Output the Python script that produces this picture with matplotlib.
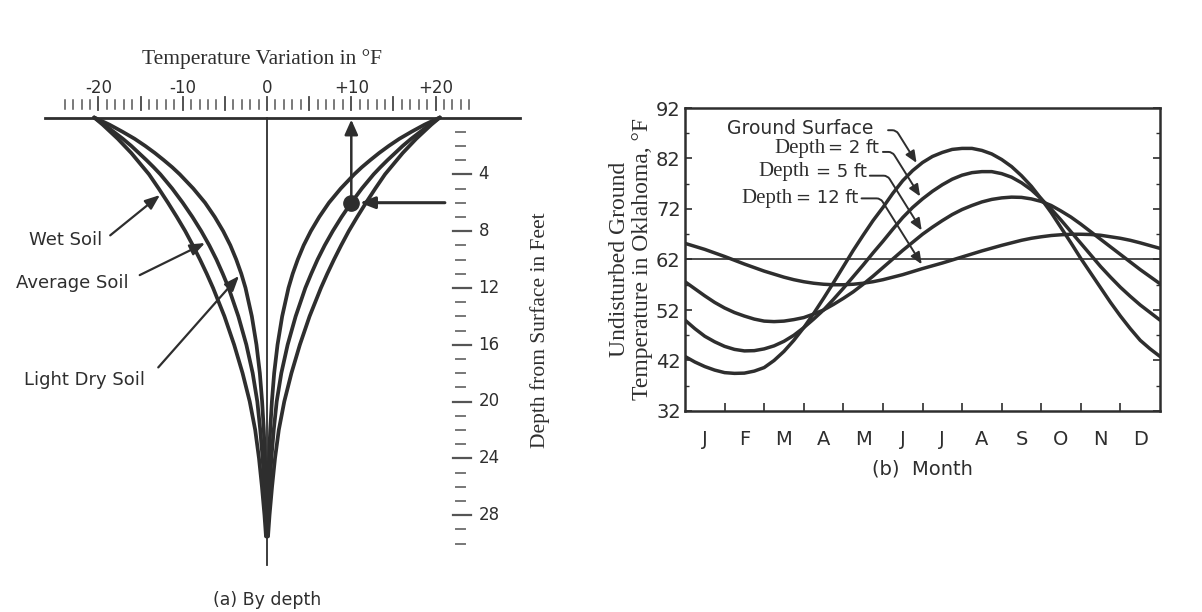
import numpy as np
import matplotlib
matplotlib.use("Agg")
import matplotlib.pyplot as plt

# ---------------- Panel (a): temperature variation by depth ----------------
depth_ft = [0, 0.5, 1, 1.5, 2, 2.5, 3, 3.5, 4, 5, 6, 7, 8, 9, 10, 11, 12,
            14, 16, 18, 20, 22, 24, 26, 28, 29.5]
wet_soil = [20.5, 19.5, 18.6, 17.7, 16.9, 16.1, 15.4, 14.7, 14.0, 12.85, 11.75,
            10.7, 9.7, 8.8, 7.95, 7.15, 6.4, 5.05, 3.9, 2.9, 2.05, 1.4, 0.95,
            0.6, 0.3, 0.12]
average_soil = [20.5, 19.3, 18.2, 17.1, 16.1, 15.2, 14.3, 13.45, 12.65, 11.25,
                10.0, 8.85, 7.8, 6.85, 6.0, 5.25, 4.55, 3.4, 2.45, 1.7, 1.15,
                0.8, 0.52, 0.32, 0.17, 0.06]
light_dry_soil = [20.5, 18.7, 17.15, 15.7, 14.45, 13.3, 12.25, 11.25, 10.35,
                  8.75, 7.35, 6.2, 5.2, 4.35, 3.65, 3.05, 2.55, 1.8, 1.25, 0.85,
                  0.58, 0.38, 0.24, 0.14, 0.07, 0.02]
temp_ticks = [-20, -10, 0, 10, 20]
temp_tick_labels = ["-20", "-10", "0", "+10", "+20"]
depth_ticks = [4, 8, 12, 16, 20, 24, 28]
marker_depth = 6

# ---------------- Panel (b): monthly ground temperature ----------------
month_pos = [i / 4 for i in range(49)]   # quarter-month positions, Jan 1 .. Dec 31
ground_surface = [42.8, 41.7, 40.8, 40.1, 39.6, 39.45, 39.5, 39.9, 40.6, 42.0,
                  43.8, 46.0, 48.5, 51.3, 54.3, 57.4, 60.6, 63.8, 66.8, 69.7,
                  72.3, 75.1, 77.6, 79.6, 81.2, 82.4, 83.2, 83.8, 84.0, 84.0,
                  83.6, 82.9, 81.8, 80.4, 78.6, 76.5, 74.0, 71.3, 68.3, 65.3,
                  62.2, 59.3, 56.4, 53.5, 50.8, 48.3, 46.0, 44.3, 42.8]
depth_2ft = [50.0, 48.3, 46.8, 45.7, 44.8, 44.2, 43.9, 43.95, 44.3, 44.9, 45.8,
             47.0, 48.5, 50.2, 52.0, 54.1, 56.3, 58.6, 60.9, 63.3, 65.6, 68.0,
             70.3, 72.3, 74.0, 75.5, 76.8, 77.9, 78.7, 79.2, 79.4, 79.4, 79.0,
             78.3, 77.2, 75.8, 74.0, 72.0, 69.8, 67.5, 65.2, 62.9, 60.6, 58.5,
             56.5, 54.7, 53.0, 51.5, 50.0]
depth_5ft = [57.6, 56.2, 54.8, 53.5, 52.4, 51.5, 50.8, 50.2, 49.8, 49.7, 49.8,
             50.1, 50.5, 51.2, 52.0, 53.1, 54.3, 55.6, 57.1, 58.7, 60.4, 62.1,
             63.8, 65.4, 67.0, 68.4, 69.7, 70.9, 71.9, 72.7, 73.4, 73.9, 74.2,
             74.35, 74.3, 74.0, 73.5, 72.7, 71.6, 70.4, 69.0, 67.5, 66.0, 64.5,
             63.0, 61.5, 60.0, 58.6, 57.2]
depth_12ft = [65.2, 64.6, 64.0, 63.3, 62.6, 61.85, 61.1, 60.4, 59.7, 59.1, 58.5,
              58.0, 57.6, 57.3, 57.1, 57.0, 57.0, 57.1, 57.3, 57.6, 58.0, 58.5,
              59.0, 59.6, 60.2, 60.75, 61.3, 61.9, 62.5, 63.1, 63.7, 64.25, 64.8,
              65.3, 65.8, 66.2, 66.5, 66.75, 66.9, 67.0, 67.0, 66.95, 66.8, 66.5,
              66.2, 65.8, 65.3, 64.75, 64.2]
mean_temp = 62
month_labels = ["J", "F", "M", "A", "M", "J", "J", "A", "S", "O", "N", "D"]
temp_yticks = [32, 42, 52, 62, 72, 82, 92]

INK = "#2e2e2e"
SANS = ["DejaVu Sans"]
SERIF = ["Liberation Serif", "DejaVu Serif"]

fig = plt.figure(figsize=(12.02, 6.12), dpi=100)
fig.patch.set_facecolor("white")

# ======================= Panel (a) =======================
axa = fig.add_axes([0, 0, 600 / 1202, 1])
axa.set_xlim(-267 / 8.43, (600 - 267) / 8.43)
axa.set_ylim((612 - 117.5) / 14.2, -117.5 / 14.2)
axa.axis("off")

d = np.array(depth_ft)
for curve in (wet_soil, average_soil, light_dry_soil):
    c = np.array(curve)
    axa.plot(c, d, color=INK, lw=2.7, solid_capstyle="round", solid_joinstyle="round")
    axa.plot(-c, d, color=INK, lw=2.7, solid_capstyle="round", solid_joinstyle="round")

# ground surface line and center line
axa.plot([-26.3, 30.0], [0, 0], color=INK, lw=2.0)
axa.plot([0, 0], [0, 31.5], color=INK, lw=1.3)

# ruler on top
for v in range(-24, 25):
    if v % 5 == 0:
        axa.plot([v, v], [-1.45, -0.5], color="#444444", lw=1.3)
    else:
        axa.plot([v, v], [-1.2, -0.6], color="#555555", lw=1.1)
for v, lab in zip(temp_ticks, temp_tick_labels):
    axa.text(v, -2.1, lab, ha="center", va="center", fontsize=12,
             family=SANS, color=INK)
axa.text(-0.6, -4.15, "Temperature Variation in °F", ha="center", va="center",
         fontsize=15.5, family=SERIF, color=INK)

# depth scale
for k in range(1, 31):
    if k % 4 == 0:
        axa.plot([22.1, 24.2], [k, k], color="#555555", lw=1.6)
    else:
        axa.plot([22.4, 23.5], [k, k], color="#777777", lw=1.4)
for k in depth_ticks:
    axa.text(25.1, k, str(k), ha="left", va="center", fontsize=12,
             family=SANS, color=INK)
axa.text(32.4, 15.0, "Depth from Surface in Feet", rotation=90, ha="center",
         va="center", fontsize=15.5, family=SERIF, color=INK)

# soil labels with arrows (tips placed on the curves)
label_specs = [
    ("Wet Soil", wet_soil, -23.9, 8.6, (-18.6, 8.3), 5.46),
    ("Average Soil", average_soil, -23.1, 11.65, (-15.1, 11.1), 8.84),
    ("Light Dry Soil", light_dry_soil, -21.7, 18.5, (-12.9, 17.6), 11.16),
]
for text, curve, tx, ty, start, tip_d in label_specs:
    tip_v = -np.interp(tip_d, depth_ft, curve) - 0.35
    axa.text(tx, ty, text, ha="center", va="center", fontsize=13,
             family=SANS, color=INK)
    axa.annotate("", xy=(tip_v, tip_d), xytext=start,
                 arrowprops=dict(arrowstyle="-|>,head_length=0.9,head_width=0.35",
                                 color=INK, lw=1.6, shrinkA=0, shrinkB=0))

# reading marker on the average-soil curve
mv = average_soil[depth_ft.index(marker_depth)]
axa.plot([mv], [marker_depth], "o", color=INK, markersize=11)
axa.annotate("", xy=(mv, 0.15), xytext=(mv, marker_depth - 0.5),
             arrowprops=dict(arrowstyle="-|>,head_length=0.9,head_width=0.4",
                             color=INK, lw=1.8, shrinkA=0, shrinkB=0))
axa.annotate("", xy=(mv + 1.0, marker_depth), xytext=(21.1, marker_depth),
             arrowprops=dict(arrowstyle="-|>,head_length=0.9,head_width=0.35",
                             color=INK, lw=2.2, shrinkA=0, shrinkB=0))

axa.text(0, 34.0, "(a) By depth", ha="center", va="center", fontsize=12.5,
         family=SANS, color=INK)

# ======================= Panel (b) =======================
axb = fig.add_axes([685 / 1202, 1 - 411 / 612, 475 / 1202, 303 / 612])
t = np.array(month_pos)
for series in (ground_surface, depth_2ft, depth_5ft, depth_12ft):
    axb.plot(t, series, color=INK, lw=2.5, solid_capstyle="round",
             solid_joinstyle="round")
axb.axhline(mean_temp, color=INK, lw=1.2)

axb.set_xlim(0, 12)
axb.set_ylim(32, 92)
for s in axb.spines.values():
    s.set_linewidth(1.8)
    s.set_color(INK)

axb.set_yticks(temp_yticks)
axb.set_yticks([37, 47, 57, 67, 77, 87], minor=True)
axb.tick_params(axis="y", which="both", direction="in", left=True, right=True,
                labelsize=14, pad=3, colors=INK)
axb.tick_params(axis="y", which="major", length=5, width=1.2)
axb.tick_params(axis="y", which="minor", length=3, width=1.0)
for lab in axb.get_yticklabels():
    lab.set_family(SANS)

axb.set_xticks(range(1, 12))
axb.set_xticklabels([])
axb.set_xticks(np.arange(12) + 0.5, minor=True)
axb.set_xticklabels(month_labels, minor=True)
axb.tick_params(axis="x", which="major", direction="in", length=6, width=1.2,
                top=False, colors=INK)
axb.tick_params(axis="x", which="minor", length=0, pad=14, labelsize=14,
                colors=INK)
for lab in axb.get_xticklabels(minor=True):
    lab.set_family(SANS)

axb.set_xlabel("(b)  Month", fontsize=14, family=SANS, color=INK, labelpad=7)
axb.set_ylabel("Undisturbed Ground\nTemperature in Oklahoma, °F", fontsize=17,
               family=SERIF, color=INK, labelpad=2, linespacing=1.15)

# curve labels with leader arrows
axb.text(1.06, 88.0, "Ground Surface", ha="left", va="center", fontsize=13.5,
         family=SANS, color=INK)
depth_labels = [("= 2 ft", 3.54, 3.62, 84.0), ("= 5 ft", 3.16, 3.30, 79.4),
                ("= 12 ft", 2.71, 2.80, 74.1)]
for lab, xr, xl, yv in depth_labels:
    axb.text(xr, yv, "Depth", ha="right", va="center", fontsize=15,
             family=SERIF, color=INK)
    axb.text(xl, yv, lab, ha="left", va="center", fontsize=13,
             family=SANS, color=INK)

leaders = [
    (ground_surface, (5.13, 87.6), 5.85),
    (depth_2ft, (5.0, 83.3), 5.94),
    (depth_5ft, (4.67, 78.6), 5.98),
    (depth_12ft, (4.46, 74.1), 5.98),
]
for series, start, tip_t in leaders:
    tip_v = np.interp(tip_t, month_pos, series) + 0.9
    axb.annotate("", xy=(tip_t, tip_v), xytext=start,
                 arrowprops=dict(arrowstyle="-|>,head_length=0.7,head_width=0.3",
                                 color=INK, lw=1.4, shrinkA=0, shrinkB=0,
                                 connectionstyle="angle,angleA=0,angleB=-58,rad=4"))

fig.savefig("out.png", dpi=100, facecolor="white")
